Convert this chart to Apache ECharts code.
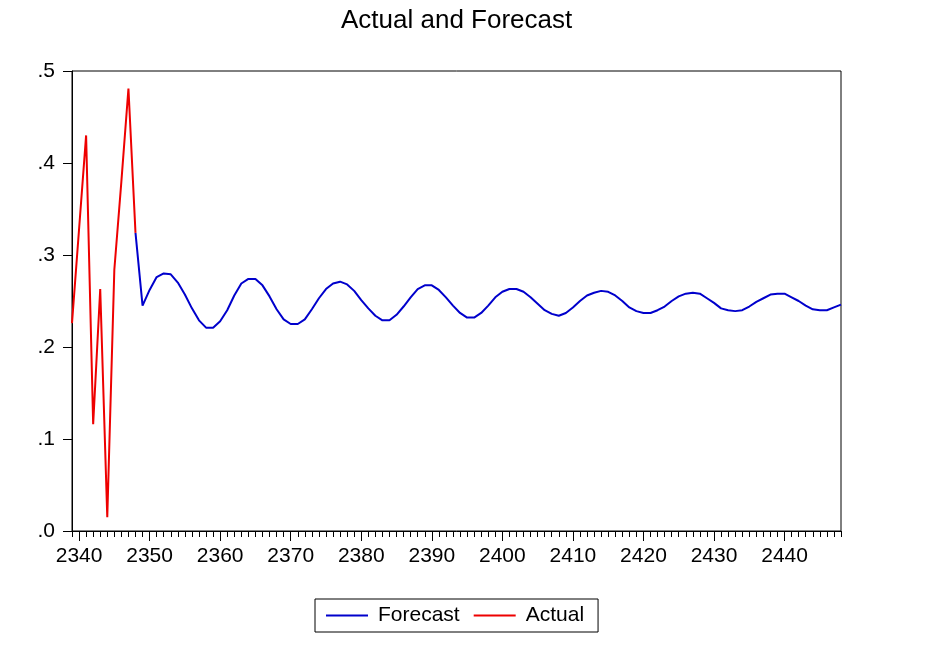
<!DOCTYPE html>
<html>
<head>
<meta charset="utf-8">
<title>Actual and Forecast</title>
<script src="https://cdn.jsdelivr.net/npm/echarts@6/dist/echarts.min.js"></script>
<style>
    html, body { margin: 0; padding: 0; background: #fff; }
    #main { width: 947px; height: 649px; }
</style>
</head>
<body>
<div id="main"></div>
<script>
// x range of the plot (one category per period)
var firstYear = 2339,
    lastYear = 2448;

// actual values, from 2339
var actualStart = 2339;
var actualValues = [0.226, 0.328, 0.430, 0.116, 0.263, 0.015, 0.284, 0.380, 0.481, 0.324];

// forecast values, from 2348
var forecastStart = 2348;
var forecastValues = [
    0.324, 0.245, 0.262, 0.276, 0.280, 0.279, 0.270, 0.257, 0.242, 0.229,
    0.221, 0.221, 0.228, 0.240, 0.256, 0.269, 0.274, 0.274, 0.267, 0.255,
    0.241, 0.230, 0.225, 0.225, 0.230, 0.241, 0.253, 0.263, 0.269, 0.271,
    0.268, 0.261, 0.251, 0.242, 0.234, 0.229, 0.229, 0.235, 0.244, 0.254,
    0.263, 0.267, 0.267, 0.262, 0.254, 0.245, 0.237, 0.232, 0.232, 0.237,
    0.245, 0.254, 0.260, 0.263, 0.263, 0.260, 0.254, 0.247, 0.240, 0.236,
    0.234, 0.237, 0.243, 0.250, 0.256, 0.259, 0.261, 0.260, 0.256, 0.250,
    0.243, 0.239, 0.237, 0.237, 0.240, 0.244, 0.250, 0.255, 0.258, 0.259,
    0.258, 0.253, 0.248, 0.242, 0.240, 0.239, 0.240, 0.244, 0.249, 0.253,
    0.257, 0.258, 0.258, 0.254, 0.250, 0.245, 0.241, 0.240, 0.240, 0.243,
    0.246
];

// y ticks
var yMin = 0, yMax = 0.5, yStep = 0.1;

var years = [];
for (var y = firstYear; y <= lastYear; y++) {
    years.push(String(y));
}

var toPairs = function(start, values) {
    var out = [];
    for (var i = 0; i < values.length; i++) {
        out.push([String(start + i), values[i]]);
    }
    return out;
};

var isMajor = function(index, value) {
    return Number(value) % 10 === 0;
};

var font = 'Liberation Sans, Arial, sans-serif';

var chart = echarts.init(document.getElementById('main'));
chart.setOption({
    animation: false,
    backgroundColor: '#fff',
    textStyle: { fontFamily: font },
    title: {
        text: 'Actual and Forecast',
        left: 336,
        top: 3,
        textStyle: { fontFamily: font, fontSize: 26, fontWeight: 'normal', color: '#000' }
    },
    legend: {
        left: 315,
        top: 599,
        padding: [6, 14, 6, 11],
        itemGap: 14,
        itemWidth: 42,
        itemHeight: 2,
        icon: 'rect',
        borderColor: '#000',
        borderWidth: 1,
        backgroundColor: '#fff',
        textStyle: { fontFamily: font, fontSize: 21, color: '#000', padding: [0, 0, 0, 5] },
        data: [
            { name: 'Forecast', textStyle: { width: 84 } },
            { name: 'Actual', textStyle: { width: 56 } }
        ]
    },
    grid: {
        left: 72,
        right: 106,
        top: 71,
        bottom: 118,
        show: true,
        borderColor: '#000',
        borderWidth: 1,
        containLabel: false
    },
    xAxis: [{
        // minor ticks, one per period
        type: 'category',
        data: years,
        boundaryGap: false,
        position: 'bottom',
        axisLine: { lineStyle: { color: '#000', width: 1 } },
        axisTick: { interval: 0, length: 6, lineStyle: { color: '#000' } },
        axisLabel: { show: false },
        splitLine: { show: false }
    }, {
        // major ticks + labels every 10
        type: 'category',
        data: years,
        boundaryGap: false,
        position: 'bottom',
        axisLine: { show: false },
        axisTick: { interval: isMajor, length: 10, lineStyle: { color: '#000' } },
        axisLabel: { interval: isMajor, fontSize: 21, margin: 15, color: '#000', fontFamily: font },
        splitLine: { show: false }
    }],
    yAxis: {
        type: 'value',
        min: yMin,
        max: yMax,
        interval: yStep,
        axisLine: { show: true, lineStyle: { color: '#000', width: 1 } },
        axisTick: { show: true, length: 9, lineStyle: { color: '#000' } },
        axisLabel: {
            fontSize: 21,
            margin: 17,
            color: '#000',
            fontFamily: font,
            formatter: function(v) {
                return v.toFixed(1).replace(/^0/, '');
            }
        },
        splitLine: { show: false }
    },
    series: [{
        name: 'Forecast',
        type: 'line',
        xAxisIndex: 0,
        symbol: 'none',
        color: '#0000CC',
        lineStyle: { width: 2, color: '#0000CC' },
        data: toPairs(forecastStart, forecastValues)
    }, {
        name: 'Actual',
        type: 'line',
        xAxisIndex: 0,
        symbol: 'none',
        color: '#EE0000',
        lineStyle: { width: 2, color: '#EE0000' },
        data: toPairs(actualStart, actualValues)
    }]
});
</script>
</body>
</html>
